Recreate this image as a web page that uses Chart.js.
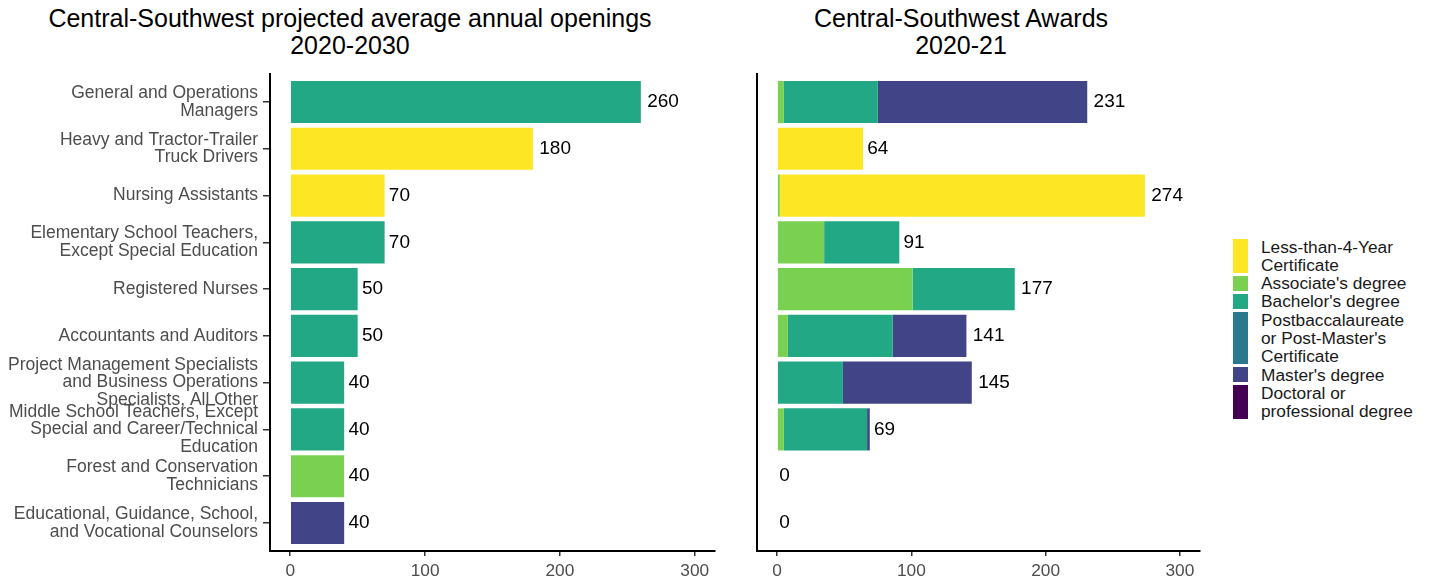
<!DOCTYPE html>
<html>
<head>
<meta charset="utf-8">
<script src="https://cdn.jsdelivr.net/npm/chart.js@4.4.0/dist/chart.umd.min.js"></script>
<style>
body{margin:0;background:#fff;font-family:"Liberation Sans",Arial,sans-serif}
#page{position:relative;width:1430px;height:583px;overflow:hidden}
.title{position:absolute;top:4.5px;text-align:center;font-size:25px;line-height:27px;color:#000;white-space:nowrap}
#legend{position:absolute;left:1233px;top:237.5px;font-size:17.3px;line-height:18.3px;color:#1a1a1a}
.item{display:flex;align-items:stretch}
.box{width:15px;margin:1.5px 13px 1.5px 0}
canvas{position:absolute;top:0}
</style>
</head>
<body>
<div id="page">
<div class="title" style="left:0;width:700px">Central-Southwest projected average annual openings<br>2020-2030</div>
<div class="title" style="left:722px;width:478px">Central-Southwest Awards<br>2020-21</div>
<div style="position:absolute;left:0;top:0;width:725px;height:583px"><canvas id="left"></canvas></div>
<div style="position:absolute;left:722px;top:0;width:488px;height:583px"><canvas id="right"></canvas></div>
<div id="legend"></div>
</div>
<script>
// occupations, top to bottom
const occupations = [
  ["General and Operations", "Managers"],
  ["Heavy and Tractor-Trailer", "Truck Drivers"],
  ["Nursing Assistants"],
  ["Elementary School Teachers,", "Except Special Education"],
  ["Registered Nurses"],
  ["Accountants and Auditors"],
  ["Project Management Specialists", "and Business Operations", "Specialists, All Other"],
  ["Middle School Teachers, Except", "Special and Career/Technical", "Education"],
  ["Forest and Conservation", "Technicians"],
  ["Educational, Guidance, School,", "and Vocational Counselors"]
];
const openings = [260, 180, 70, 70, 50, 50, 40, 40, 40, 40];
// typical entry education (index into levels)
const openingsLevel = [2, 0, 0, 2, 2, 2, 2, 2, 1, 4];

const levels = ["Less-than-4-Year Certificate", "Associate's degree", "Bachelor's degree",
  "Postbaccalaureate or Post-Master's Certificate", "Master's degree", "Doctoral or professional degree"];
const legendLines = [["Less-than-4-Year", "Certificate"], ["Associate's degree"], ["Bachelor's degree"],
  ["Postbaccalaureate", "or Post-Master's", "Certificate"], ["Master's degree"], ["Doctoral or", "professional degree"]];
const levelColors = ["#FDE725", "#7AD151", "#22A884", "#2A788E", "#414487", "#440154"];

// awards 2020-21 by level
const certAwards     = [0, 64, 272, 0, 0, 0, 0, 0, 0, 0];
const assocAwards    = [5, 0, 2, 35, 101, 8, 0, 5, 0, 0];
const bachAwards     = [70, 0, 0, 56, 76, 78, 49, 62, 0, 0];
const postbaccAwards = [0, 0, 0, 0, 0, 0, 0, 0, 0, 0];
const masterAwards   = [156, 0, 0, 0, 0, 55, 96, 2, 0, 0];
const doctorAwards   = [0, 0, 0, 0, 0, 0, 0, 0, 0, 0];

const xTicks = [0, 100, 200, 300];

// legend
const lg = document.getElementById('legend');
legendLines.forEach((lines, k) => {
  const it = document.createElement('div'); it.className = 'item';
  const b = document.createElement('div'); b.className = 'box'; b.style.background = levelColors[k];
  const t = document.createElement('div'); t.innerHTML = lines.join('<br>');
  it.appendChild(b); it.appendChild(t); lg.appendChild(it);
});

const totalLabels = {
  id: 'totalLabels',
  afterDatasetsDraw(chart, args, opts) {
    const {ctx, scales: {x, y}} = chart;
    ctx.save();
    ctx.font = '19px "Liberation Sans", Arial, sans-serif';
    ctx.fillStyle = '#000';
    ctx.textBaseline = 'middle';
    ctx.textAlign = 'left';
    opts.totals.forEach((t, i) => {
      const s = String(t);
      const w = ctx.measureText(s).width;
      ctx.fillText(s, x.getPixelForValue(t) + 0.2 * w, y.getPixelForValue(i));
    });
    ctx.restore();
  }
};

function xAxis() {
  return {
    type: 'linear', min: -15, max: 315, stacked: true,
    afterBuildTicks: s => { s.ticks = xTicks.map(v => ({value: v})); },
    afterFit: s => { s.height = 32; },
    ticks: {color: '#4d4d4d', font: {size: 17.3, family: '"Liberation Sans", Arial'}, padding: 5, autoSkip: false},
    grid: {display: true, drawOnChartArea: false, drawTicks: true, tickLength: 5, color: '#333', lineWidth: 1.5},
    border: {display: true, color: '#000', width: 2}
  };
}
function yAxis(width, showLabels) {
  return {
    type: 'linear', min: -0.6, max: 9.6, reverse: true, stacked: true, offset: false,
    afterBuildTicks: s => { s.ticks = occupations.map((_, i) => ({value: i})); },
    afterFit: s => { s.width = width; },
    ticks: {display: showLabels, autoSkip: false, color: '#4d4d4d', padding: 5,
      font: {size: 17.5, family: '"Liberation Sans", Arial', lineHeight: 1.0},
      callback: v => occupations[v]},
    grid: {display: showLabels, offset: false, drawOnChartArea: false, drawTicks: true, tickLength: 7, color: '#333', lineWidth: 1.5},
    border: {display: true, color: '#000', width: 2}
  };
}

new Chart(document.getElementById('left'), {
  type: 'bar',
  data: {
    datasets: [{
      label: 'Openings',
      data: openings.map((v, i) => ({x: v, y: i})),
      backgroundColor: openingsLevel.map(l => levelColors[l]),
      categoryPercentage: 0.9, barPercentage: 1
    }]
  },
  options: {
    indexAxis: 'y', responsive: true, maintainAspectRatio: false, animation: false,
    layout: {padding: {top: 74, right: 10, left: 0, bottom: 0}},
    scales: {x: xAxis(), y: yAxis(270, true)},
    plugins: {legend: {display: false}, tooltip: {enabled: false}, totalLabels: {totals: openings}}
  },
  plugins: [totalLabels]
});

const awardSets = [assocAwards, certAwards, bachAwards, postbaccAwards, masterAwards, doctorAwards];
const awardLevel = [1, 0, 2, 3, 4, 5];
const awardTotals = occupations.map((_, i) => awardSets.reduce((a, s) => a + s[i], 0));

new Chart(document.getElementById('right'), {
  type: 'bar',
  data: {
    datasets: awardSets.map((s, k) => ({
      label: levels[awardLevel[k]],
      data: s.map((v, i) => ({x: v, y: i})),
      backgroundColor: levelColors[awardLevel[k]],
      categoryPercentage: 0.9, barPercentage: 1
    }))
  },
  options: {
    indexAxis: 'y', responsive: true, maintainAspectRatio: false, animation: false,
    layout: {padding: {top: 74, right: 10, left: 0, bottom: 0}},
    scales: {x: xAxis(), y: yAxis(35, false)},
    plugins: {legend: {display: false}, tooltip: {enabled: false}, totalLabels: {totals: awardTotals}}
  },
  plugins: [totalLabels]
});
</script>
</body>
</html>
